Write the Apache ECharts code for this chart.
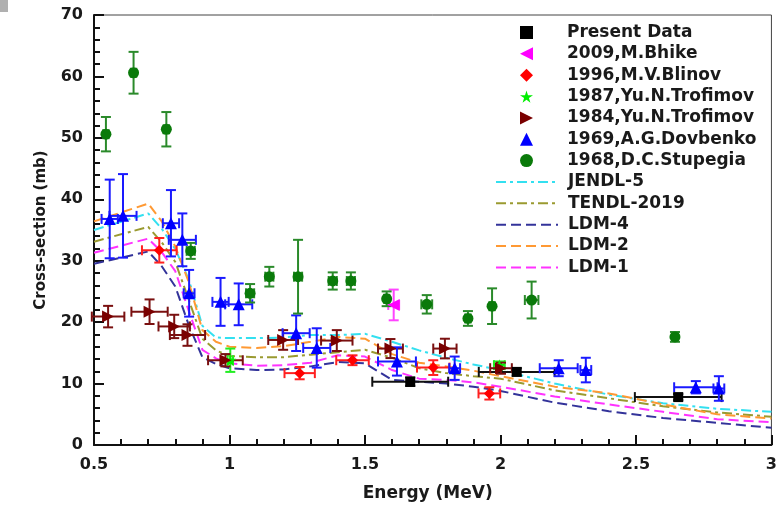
<!DOCTYPE html>
<html><head><meta charset="utf-8">
<script src="https://cdn.jsdelivr.net/npm/echarts@6/dist/echarts.min.js"></script>
<style>html,body{margin:0;padding:0;background:#fff}#c{width:780px;height:507px}</style>
</head><body><div id="c"></div>
<script>
// rows: [Energy (MeV), cross-section (mb), dE, dSigma]
const presentData = [[1.667,10.3,0.14,0.7],[2.060,11.9,0.14,0.6],[2.656,7.8,0.16,0.5]];
const bhike2009 = [[1.606,22.8,0.02,2.5]];
const blinov1996 = [[0.741,31.7,0.064,2.0],[1.259,11.7,0.056,1.0],[1.454,13.8,0.06,0.8],[1.752,12.6,0.06,1.2],[1.959,8.4,0.04,1.0]];
const trofimov1987 = [[1.003,13.8,0.01,1.9],[1.996,13.0,0.02,0.6]];
const trofimov1984 = [[0.552,20.9,0.06,1.75],[0.705,21.7,0.067,2.0],[0.796,19.3,0.058,1.9],[0.845,17.9,0.065,1.75],[0.985,13.8,0.064,1.0],[1.198,17.1,0.055,1.6],[1.396,17.0,0.058,1.7],[1.594,15.7,0.046,1.55],[1.795,15.7,0.043,1.6],[2.002,12.5,0.04,0.9]];
const dovbenko1969 = [[0.558,36.8,0.03,6.4],[0.607,37.3,0.05,6.8],[0.784,36.1,0.03,5.4],[0.826,33.4,0.05,4.3],[0.851,24.7,0.02,3.8],[0.967,23.3,0.03,3.9],[1.034,22.9,0.05,3.4],[1.246,18.2,0.05,2.9],[1.322,15.8,0.05,3.2],[1.618,13.6,0.07,2.3],[1.831,12.5,0.02,1.9],[2.215,12.5,0.07,1.3],[2.315,12.2,0.02,2.0],[2.721,9.4,0.08,1.0],[2.806,9.2,0.02,2.0]];
const stupegia1968 = [[0.544,50.6,0.01,2.8],[0.646,60.6,0.01,3.4],[0.767,51.4,0.01,2.8],[0.857,31.6,0.015,1.3],[1.076,24.7,0.015,1.5],[1.147,27.4,0.015,1.6],[1.253,27.4,0.015,6.0],[1.381,26.7,0.015,1.4],[1.448,26.7,0.015,1.4],[1.58,23.8,0.01,1.2],[1.728,22.9,0.02,1.5],[1.880,20.6,0.01,1.2],[1.969,22.6,0.01,2.9],[2.115,23.6,0.025,3.0],[2.644,17.6,0.01,0.8]];

const modelE = [0.5,0.7,0.75,0.8,0.85,0.9,0.95,1.0,1.1,1.2,1.3,1.4,1.5,1.6,1.7,1.8,1.9,2.0,2.2,2.4,2.6,2.8,3.0];
const jendl5 = [35.0,37.7,35.2,31.9,26.9,19.4,17.5,17.4,17.4,17.5,17.9,17.9,18.1,16.8,15.4,14.2,13.1,12.2,10.0,8.2,6.8,5.9,5.4];
const tendl2019 = [33.1,35.5,33.0,29.8,23.6,17.3,15.4,14.5,14.3,14.3,14.7,15.1,15.5,14.2,12.5,11.7,11.2,10.8,8.9,7.6,6.3,5.3,4.6];
const ldm4 = [29.5,31.5,29.1,25.8,19.5,14.3,13.2,12.5,12.2,12.3,12.8,13.5,13.3,10.6,10.3,10.0,9.5,8.8,6.9,5.5,4.4,3.6,2.8];
const ldm2 = [36.4,39.3,36.4,32.3,26.5,18.7,16.8,16.0,15.8,16.1,16.8,17.6,17.3,14.8,13.4,12.8,12.1,11.2,9.5,8.4,6.6,5.0,4.3];
const ldm1 = [31.3,33.6,31.4,28.3,21.8,15.5,14.1,13.3,12.9,13.0,13.4,14.6,14.4,12.2,10.8,10.6,10.2,9.5,7.9,6.6,5.4,4.2,3.7];

const xTicks = {min:0.5, max:3, interval:0.5};
const yTicks = {min:0, max:70, interval:10};

const STAR = 'path://M50,0 L61,35 L98,35 L68,57 L79,91 L50,70 L21,91 L32,57 L2,35 L39,35 Z';
const TRI_L = 'path://M0,5 L10,0 L10,10 Z';
const TRI_R = 'path://M10,5 L0,0 L0,10 Z';
const expSets = [
  {name:'Present Data', data:presentData, color:'#000000', bar:'#111111', symbol:'rect', size:10, rot:0},
  {name:'2009,M.Bhike', data:bhike2009, color:'#ff00ff', bar:'#ff44ff', symbol:'triangle', size:12, rot:90, icon:TRI_L},
  {name:'1996,M.V.Blinov', data:blinov1996, color:'#ff0000', bar:'#ff2020', symbol:'diamond', size:11, rot:0},
  {name:'1987,Yu.N.Trofimov', data:trofimov1987, color:'#00ee00', bar:'#22ee22', symbol:STAR, size:12, rot:0},
  {name:'1984,Yu.N.Trofimov', data:trofimov1984, color:'#7a0000', bar:'#7a1010', symbol:'triangle', size:12, rot:-90, icon:TRI_R},
  {name:'1969,A.G.Dovbenko', data:dovbenko1969, color:'#0000ff', bar:'#1a1aff', symbol:'triangle', size:12, rot:0},
  {name:'1968,D.C.Stupegia', data:stupegia1968, color:'#0a7a0a', bar:'#2a8a2a', symbol:'circle', size:11, rot:0}
];
const models = [
  {name:'JENDL-5', data:jendl5, color:'#33e0f0', type:[10,4,3,4]},
  {name:'TENDL-2019', data:tendl2019, color:'#9a9a30', type:[10,4,3,4]},
  {name:'LDM-4', data:ldm4, color:'#33339a', type:[10,5]},
  {name:'LDM-2', data:ldm2, color:'#ff9933', type:[10,5]},
  {name:'LDM-1', data:ldm1, color:'#ff33ff', type:[10,5]}
];

function errRender(color){
  return function(params, api){
    const x = api.value(0), y = api.value(1), dx = api.value(2), dy = api.value(3);
    const cap = 5, ch = [];
    const st = {stroke: color, lineWidth: 2};
    if (dx > 0){
      const l = api.coord([x-dx, y]), r = api.coord([x+dx, y]);
      ch.push({type:'line', shape:{x1:l[0],y1:l[1],x2:r[0],y2:r[1]}, style:st});
      ch.push({type:'line', shape:{x1:l[0],y1:l[1]-cap,x2:l[0],y2:l[1]+cap}, style:st});
      ch.push({type:'line', shape:{x1:r[0],y1:r[1]-cap,x2:r[0],y2:r[1]+cap}, style:st});
    }
    if (dy > 0){
      const t = api.coord([x, y+dy]), b = api.coord([x, y-dy]);
      ch.push({type:'line', shape:{x1:t[0],y1:t[1],x2:b[0],y2:b[1]}, style:st});
      ch.push({type:'line', shape:{x1:t[0]-cap,y1:t[1],x2:t[0]+cap,y2:t[1]}, style:st});
      ch.push({type:'line', shape:{x1:b[0]-cap,y1:b[1],x2:b[0]+cap,y2:b[1]}, style:st});
    }
    return {type:'group', children:ch};
  };
}

const series = [];
models.forEach(m => series.push({
  name:m.name, type:'line', data:modelE.map((e,i)=>[e,m.data[i]]),
  symbol:'none', z:2, lineStyle:{color:m.color, width:2, type:m.type}, itemStyle:{color:m.color}
}));
expSets.forEach(s => series.push({
  name:s.name+' err', type:'custom', renderItem:errRender(s.bar), data:s.data, z:3,
  encode:{x:0, y:1}
}));
expSets.forEach(s => series.push({
  name:s.name, type:'scatter', data:s.data.map(r=>[r[0],r[1]]), symbol:s.symbol,
  symbolSize:s.size, symbolRotate:s.rot, z:4, itemStyle:{color:s.color, opacity:1}
}));

const FONT = 'DejaVu Sans';
const ROW = 21.36;
const chart = echarts.init(document.getElementById('c'), null, {renderer:'canvas'});
chart.setOption({
  animation:false,
  backgroundColor:'#ffffff',
  graphic:[{type:'rect', left:0, top:0, shape:{width:8, height:12}, style:{fill:'#b0b0b0'}}],
  grid:{left:94, right:2, top:15, bottom:62, show:true, borderColor:'#444', borderWidth:1},
  legend:[{
    orient:'vertical', left:520, top:24, padding:0, itemWidth:13, itemHeight:13, itemGap:4.35,
    selectedMode:false,
    textStyle:{fontFamily:FONT, fontWeight:'bold', fontSize:17, color:'#1a1a1a', padding:[0,0,0,29]},
    data:expSets.map(s => s.icon ? {name:s.name, icon:s.icon, symbolRotate:0} : {name:s.name})
  },{
    orient:'vertical', left:495, top:24 + 7*ROW, padding:0, itemWidth:62, itemHeight:13, itemGap:4.35,
    selectedMode:false,
    textStyle:{fontFamily:FONT, fontWeight:'bold', fontSize:17, color:'#1a1a1a', padding:[0,0,0,5]},
    data:models.map(m => ({name:m.name, itemStyle:{opacity:0, color:'rgba(0,0,0,0)', borderWidth:0}}))
  }],
  xAxis:{
    type:'value', min:xTicks.min, max:xTicks.max, interval:xTicks.interval,
    name:'Energy (MeV)', nameLocation:'middle', nameGap:40,
    nameTextStyle:{fontFamily:FONT, fontWeight:'bold', fontSize:17, color:'#1a1a1a', padding:[0,10,0,0]},
    axisLine:{onZero:false, lineStyle:{color:'#111', width:2}},
    axisTick:{inside:true, length:10, lineStyle:{color:'#111', width:2}},
    minorTick:{show:true, splitNumber:5, length:6, lineStyle:{color:'#111', width:2}},
    splitLine:{show:false},
    axisLabel:{fontFamily:FONT, fontWeight:'bold', fontSize:16, color:'#1a1a1a', margin:12,
      formatter:v=>String(v)}
  },
  yAxis:{
    type:'value', min:yTicks.min, max:yTicks.max, interval:yTicks.interval,
    name:'Cross-section (mb)', nameLocation:'middle', nameGap:45,
    nameTextStyle:{fontFamily:FONT, fontWeight:'bold', fontSize:15, color:'#1a1a1a'},
    axisLine:{onZero:false, lineStyle:{color:'#111', width:2}},
    axisTick:{inside:true, length:10, lineStyle:{color:'#111', width:2}},
    minorTick:{show:true, splitNumber:5, length:6, lineStyle:{color:'#111', width:2}},
    splitLine:{show:false},
    axisLabel:{fontFamily:FONT, fontWeight:'bold', fontSize:16, color:'#1a1a1a', margin:11}
  },
  series:series
});
</script></body></html>
